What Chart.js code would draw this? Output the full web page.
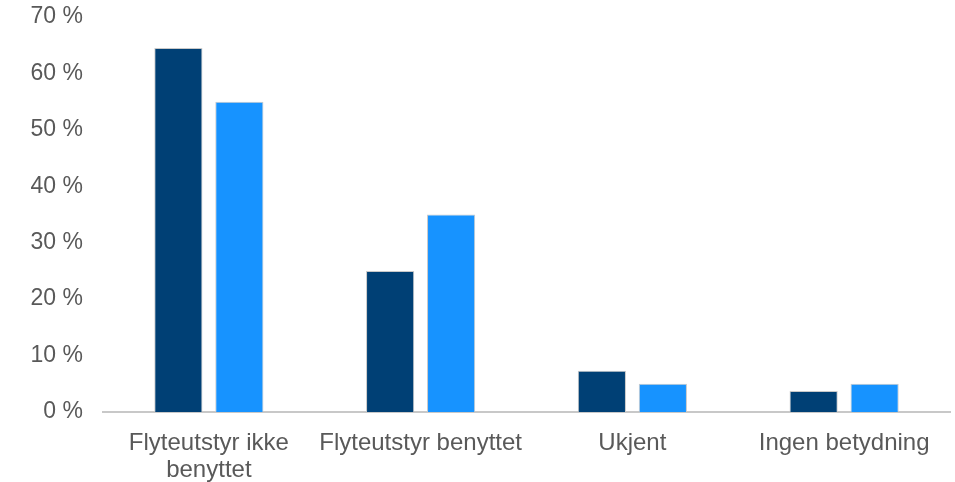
<!DOCTYPE html>
<html>
<head>
<meta charset="utf-8">
<script src="https://cdn.jsdelivr.net/npm/chart.js@4/dist/chart.umd.min.js"></script>
<style>
  html, body { margin: 0; padding: 0; background: #fff; }
  #wrap { width: 955px; height: 482px; position: relative; }
</style>
</head>
<body>
<div id="wrap"><canvas id="chart"></canvas></div>
<script>
// ── Data ──────────────────────────────────────────────
const categories = [['Flyteutstyr ikke', 'benyttet'], 'Flyteutstyr benyttet', 'Ukjent', 'Ingen betydning'];
const seriesA = [64.5, 25, 7.3, 3.7];
const seriesB = [55, 35, 5, 5];
const yTicks = [0, 10, 20, 30, 40, 50, 60, 70];

const labelColor = '#595959';
const fontFamily = '"Liberation Sans", Arial, sans-serif';

new Chart(document.getElementById('chart'), {
    type: 'bar',
    data: {
        labels: categories,
        datasets: [
            { label: 'A', data: seriesA, backgroundColor: '#004075', borderColor: '#c9c9c9', borderWidth: 1 },
            { label: 'B', data: seriesB, backgroundColor: '#1793ff', borderColor: '#c9c9c9', borderWidth: 1 }
        ]
    },
    options: {
        responsive: true,
        maintainAspectRatio: false,
        animation: false,
        categoryPercentage: 0.576,
        barPercentage: 0.79,
        layout: { padding: { top: 0, right: 5, left: 0, bottom: 0 } },
        plugins: { legend: { display: false }, tooltip: { enabled: false } },
        scales: {
            x: {
                grid: { display: false },
                border: { color: '#c8c8c8', width: 2 },
                ticks: { color: labelColor, font: { family: fontFamily, size: 24, lineHeight: 1.13 }, padding: 10, maxRotation: 0 },
                afterFit: s => { s.height = 70; }
            },
            y: {
                min: 0, max: 70,
                grid: { display: false },
                border: { display: false },
                afterBuildTicks: s => { s.ticks = yTicks.map(v => ({ value: v })); },
                ticks: {
                    color: labelColor, font: { family: fontFamily, size: 23 }, padding: 12,
                    callback: v => v + ' %'
                },
                afterFit: s => { s.width = 103; s.paddingTop = 17; s.paddingBottom = 0; }
            }
        }
    }
});
</script>
</body>
</html>
